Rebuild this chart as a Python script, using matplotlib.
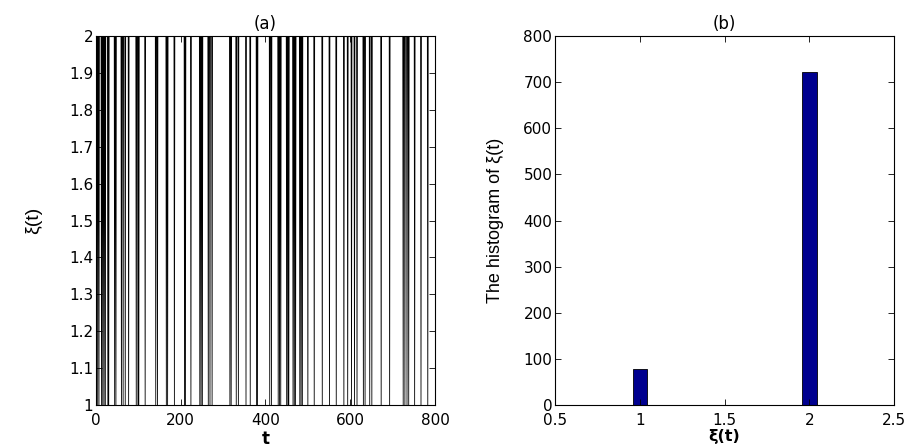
import numpy as np
import matplotlib
matplotlib.use("Agg")
import matplotlib.pyplot as plt
from matplotlib import font_manager

# ---- data ----
n_steps = 800
# times at which xi(t) = 1 (otherwise xi(t) = 2)
state1_times = [1, 4, 7, 13, 16, 19, 22, 28, 30, 44, 47, 60, 64, 69, 77,
                95, 99, 101, 116, 141, 145, 166, 169, 185, 209, 211, 224,
                245, 248, 251, 265, 269, 274, 316, 319, 331, 336, 354, 364,
                379, 381, 410, 414, 430, 433, 436, 450, 453, 455, 465, 468,
                471, 481, 484, 487, 500, 515, 534, 551, 567, 585, 594, 603,
                610, 616, 631, 635, 646, 651, 673, 693, 725, 729, 734, 738,
                752, 767, 783]
hist_centers = [1.0, 1.1, 1.2, 1.3, 1.4, 1.5, 1.6, 1.7, 1.8, 1.9, 2.0]
hist_counts = [78, 0, 0, 0, 0, 0, 0, 0, 0, 0, 722]
left_xticks = [0, 200, 400, 600, 800]
left_yticks = [1, 1.1, 1.2, 1.3, 1.4, 1.5, 1.6, 1.7, 1.8, 1.9, 2]
left_yticklabels = ["1", "1.1", "1.2", "1.3", "1.4", "1.5", "1.6", "1.7", "1.8", "1.9", "2"]
right_xticks = [0.5, 1, 1.5, 2, 2.5]
right_xticklabels = ["0.5", "1", "1.5", "2", "2.5"]
right_yticks = [0, 100, 200, 300, 400, 500, 600, 700, 800]

t = np.arange(n_steps)
xi = np.full(n_steps, 2.0)
xi[state1_times] = 1.0

names = {f.name for f in font_manager.fontManager.ttflist}
narrow = "Liberation Sans Narrow" if "Liberation Sans Narrow" in names else "Liberation Sans"
plt.rcParams['font.family'] = ['DejaVu Sans']

fig = plt.figure(figsize=(9.10, 4.48), dpi=100)
ax1 = fig.add_axes([0.1055, 0.096, 0.3725, 0.8236])
ax2 = fig.add_axes([0.610, 0.096, 0.3725, 0.8236])

tick_fs = 11
for ax in (ax1, ax2):
    ax.tick_params(direction='in', top=True, right=True, length=4, width=0.6,
                   labelsize=tick_fs, pad=2)
    ax.tick_params(axis='x', pad=6)
    for s in ax.spines.values():
        s.set_linewidth(0.8)

ax1.plot(t, xi, color='black', linewidth=0.6)
ax1.set_xlim(0, 800)
ax1.set_ylim(1, 2)
ax1.set_xticks(left_xticks)
ax1.set_yticks(left_yticks)
ax1.set_yticklabels(left_yticklabels)
ax1.set_title('(a)', fontsize=12, pad=5)
ax1.set_xlabel('t', fontsize=12, fontweight='bold', labelpad=1)
ax1.set_ylabel('ξ(t)', fontsize=14, family=[narrow, 'DejaVu Sans'], labelpad=19)

ax2.bar(hist_centers, hist_counts, width=0.085, color='#00008F',
        edgecolor='black', linewidth=0.6)
ax2.set_xlim(0.5, 2.5)
ax2.set_ylim(0, 800)
ax2.set_xticks(right_xticks)
ax2.set_xticklabels(right_xticklabels)
ax2.set_yticks(right_yticks)
ax2.set_title('(b)', fontsize=12, pad=5)
ax2.set_xlabel('ξ(t)', fontsize=11.5, fontweight='bold', labelpad=0.5)
ax2.set_ylabel('The histogram of ξ(t)', fontsize=13, family=[narrow, 'DejaVu Sans'],
               labelpad=14)

fig.savefig('out.png', dpi=100)
